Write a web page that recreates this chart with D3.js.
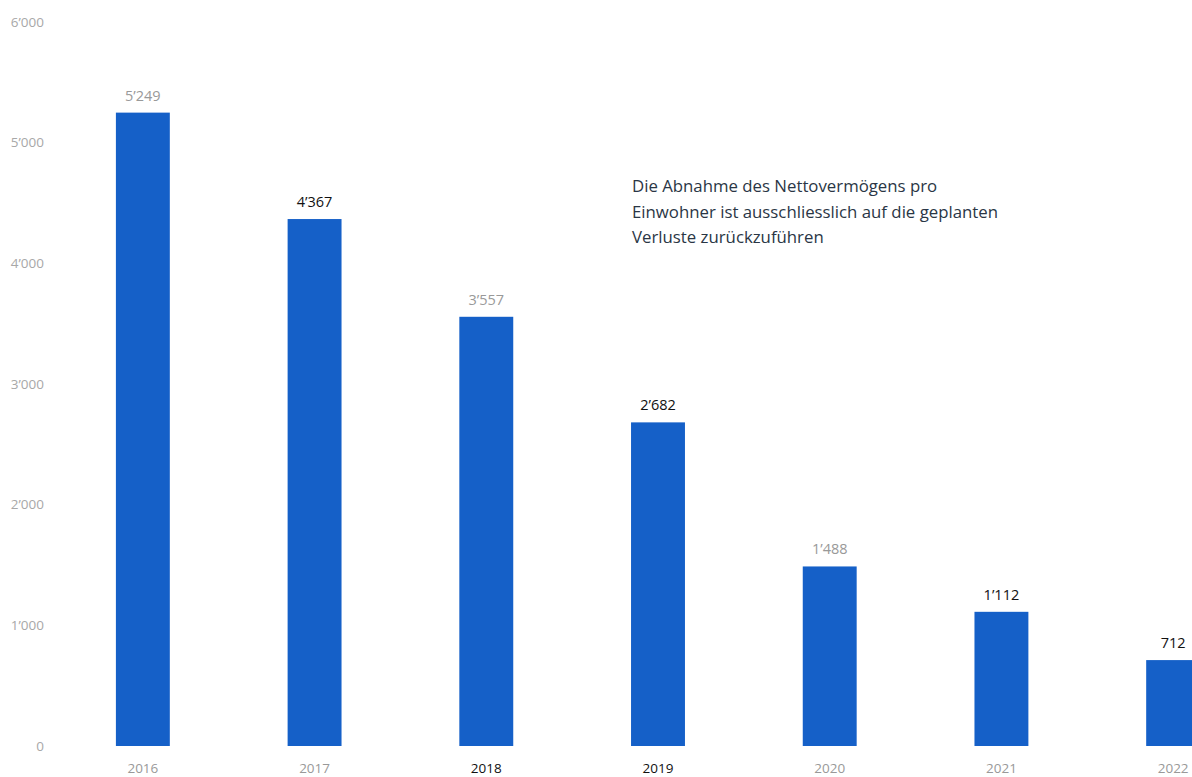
<!DOCTYPE html>
<html>
<head>
<meta charset="utf-8">
<script src="https://cdn.jsdelivr.net/npm/d3@7"></script>
<style>
  body { margin: 0; background: #fff; }
  svg { display: block; }
</style>
</head>
<body>
<svg id="chart" width="1192" height="777"></svg>
<script>
const years = ['2016', '2017', '2018', '2019', '2020', '2021', '2022'];
const values = [5249, 4367, 3557, 2682, 1488, 1112, 712];
const yTicks = [0, 1000, 2000, 3000, 4000, 5000, 6000];
// scanned original: some labels came out dark, others faded
const valueDark = [false, true, false, true, false, true, true];
const yearDark = [false, false, true, true, false, false, false];
const note = [
  'Die Abnahme des Nettovermögens pro',
  'Einwohner ist ausschliesslich auf die geplanten',
  'Verluste zurückzuführen'
];

const width = 1192;
const height = 777;
const barColor = '#1560c8';

const svg = d3.select('#chart');

const fmt = function (v) {
  return d3.format(',')(v).replace(/,/g, '\u2019');
};

const x = d3.scaleBand()
  .domain(years)
  .range([57, 1259])
  .paddingInner(0.686)
  .paddingOuter(0.343);

const y = d3.scaleLinear()
  .domain([0, 6000])
  .range([746, 22]);

// y axis labels only, no line
const yAxis = svg.append('g')
  .attr('transform', 'translate(44,0)')
  .call(d3.axisLeft(y).tickValues(yTicks).tickSize(0).tickPadding(0).tickFormat(fmt));
yAxis.select('.domain').remove();
yAxis.selectAll('text')
  .attr('font-family', 'Open Sans, sans-serif')
  .attr('font-size', 13.5)
  .attr('fill', '#a8a8a8');

// bars
svg.append('g')
  .selectAll('rect')
  .data(values)
  .join('rect')
  .attr('x', function (d, i) { return x(years[i]); })
  .attr('y', function (d) { return y(d); })
  .attr('width', x.bandwidth())
  .attr('height', function (d) { return y(0) - y(d); })
  .attr('fill', barColor);

// value labels
svg.append('g')
  .selectAll('text')
  .data(values)
  .join('text')
  .attr('x', function (d, i) { return x(years[i]) + x.bandwidth() / 2; })
  .attr('y', function (d) { return y(d) - 12; })
  .attr('text-anchor', 'middle')
  .attr('font-family', 'Open Sans, sans-serif')
  .attr('font-size', 14.5)
  .attr('fill', function (d, i) { return valueDark[i] ? '#111' : '#999'; })
  .text(fmt);

// x axis labels
const xAxis = svg.append('g')
  .attr('transform', 'translate(0,763)')
  .call(d3.axisBottom(x).tickSize(0).tickPadding(0));
xAxis.select('.domain').remove();
xAxis.selectAll('text')
  .attr('font-family', 'Open Sans, sans-serif')
  .attr('font-size', 13.5)
  .attr('fill', function (d, i) { return yearDark[i] ? '#111' : '#999'; });

// annotation
svg.append('text')
  .attr('font-family', 'Open Sans, sans-serif')
  .attr('font-size', 16.8)
  .attr('fill', '#2a3645')
  .selectAll('tspan')
  .data(note)
  .join('tspan')
  .attr('x', 632)
  .attr('y', function (d, i) { return 192 + i * 25.5; })
  .text(function (d) { return d; });
</script>
</body>
</html>
